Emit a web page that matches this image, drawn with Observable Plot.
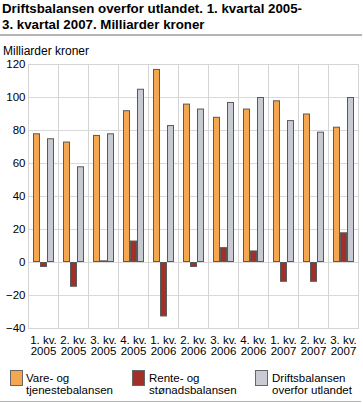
<!DOCTYPE html>
<html>
<head>
<meta charset="utf-8">
<script src="https://cdn.jsdelivr.net/npm/d3@7"></script>
<script src="https://cdn.jsdelivr.net/npm/@observablehq/plot@0.6"></script>
<style>
  body { margin: 0; background: #fff; font-family: "Liberation Sans", Arial, sans-serif; }
  #wrap { position: relative; width: 363px; height: 403px; overflow: hidden; }
  #title { position: absolute; left: 2px; top: 1px; font-size: 13.3px; font-weight: bold; line-height: 16px; color: #000; white-space: nowrap; }
  #rule1 { position: absolute; left: 0; top: 34px; width: 362px; height: 2px; background: #b4b4b4; }
  #unit { position: absolute; left: 3px; top: 44px; font-size: 12px; color: #000; }
  #chart { position: absolute; left: 0; top: 0; }
  .leg { position: absolute; top: 372px; font-size: 11.5px; line-height: 12px; color: #000; }
  .sw { position: absolute; top: 370px; width: 11px; height: 14px; border: 1px solid #666; }
  #rule2 { position: absolute; left: 0; top: 401px; width: 361px; height: 1px; background: #b4b4b4; }
</style>
</head>
<body>
<div id="wrap">
  <div id="title">Driftsbalansen overfor utlandet. 1. kvartal 2005-<br>3. kvartal 2007. Milliarder kroner</div>
  <div id="rule1"></div>
  <div id="unit">Milliarder kroner</div>
  <div id="chart"></div>
  <div class="sw" style="left:10px;background:#f5a651"></div>
  <div class="leg" style="left:26px">Vare- og<br>tjenestebalansen</div>
  <div class="sw" style="left:132px;background:#a23028"></div>
  <div class="leg" style="left:149px">Rente- og<br>stønadsbalansen</div>
  <div class="sw" style="left:255px;background:#c8cbd2"></div>
  <div class="leg" style="left:272px">Driftsbalansen<br>overfor utlandet</div>
  <div id="rule2"></div>
</div>
<script>
const quarters = ["1. kv.\n2005","2. kv.\n2005","3. kv.\n2005","4. kv.\n2005","1. kv.\n2006","2. kv.\n2006","3. kv.\n2006","4. kv.\n2006","1. kv.\n2007","2. kv.\n2007","3. kv.\n2007"];
const seriesNames = ["Vare- og tjenestebalansen","Rente- og stønadsbalansen","Driftsbalansen overfor utlandet"];
const vareTjeneste = [78, 73, 77, 92, 117, 96, 88, 93, 98, 90, 82];
const renteStonad = [-3, -15, 1, 13, -33, -3, 9, 7, -12, -12, 18];
const driftsbalanse = [75, 58, 78, 105, 83, 93, 97, 100, 86, 79, 100];
const colors = ["#f5a651", "#a23028", "#c8cbd2"];
const yTicks = [-40, -20, 0, 20, 40, 60, 80, 100, 120];

const seriesValues = [vareTjeneste, renteStonad, driftsbalanse];
const data = [];
quarters.forEach((q, i) => {
  seriesNames.forEach((s, j) => data.push({q, s, v: seriesValues[j][i]}));
});

const chart = Plot.plot({
  width: 363,
  height: 370,
  marginLeft: 24,
  marginRight: 2,
  marginTop: 64,
  marginBottom: 42,
  style: {fontFamily: "'Liberation Sans', Arial, sans-serif", fontSize: "11.5px", color: "#000", background: "transparent"},
  fx: {domain: quarters, padding: 0, label: null, tickSize: 0, tickPadding: 7},
  x: {domain: seriesNames, paddingInner: 0, paddingOuter: 0.6, axis: null},
  y: {domain: [-40, 120], ticks: yTicks, label: null, tickSize: 0, tickPadding: 3},
  color: {domain: seriesNames, range: colors},
  marks: [
    Plot.gridY(yTicks, {stroke: "#d9d9d9", strokeOpacity: 1}),
    Plot.frame({stroke: "#d4d4d4"}),
    Plot.barY(data, {fx: "q", x: "s", y: "v", fill: "s", stroke: "#5a5a5a", strokeWidth: 1, inset: 0.5})
  ]
});
document.getElementById("chart").appendChild(chart);
</script>
</body>
</html>
